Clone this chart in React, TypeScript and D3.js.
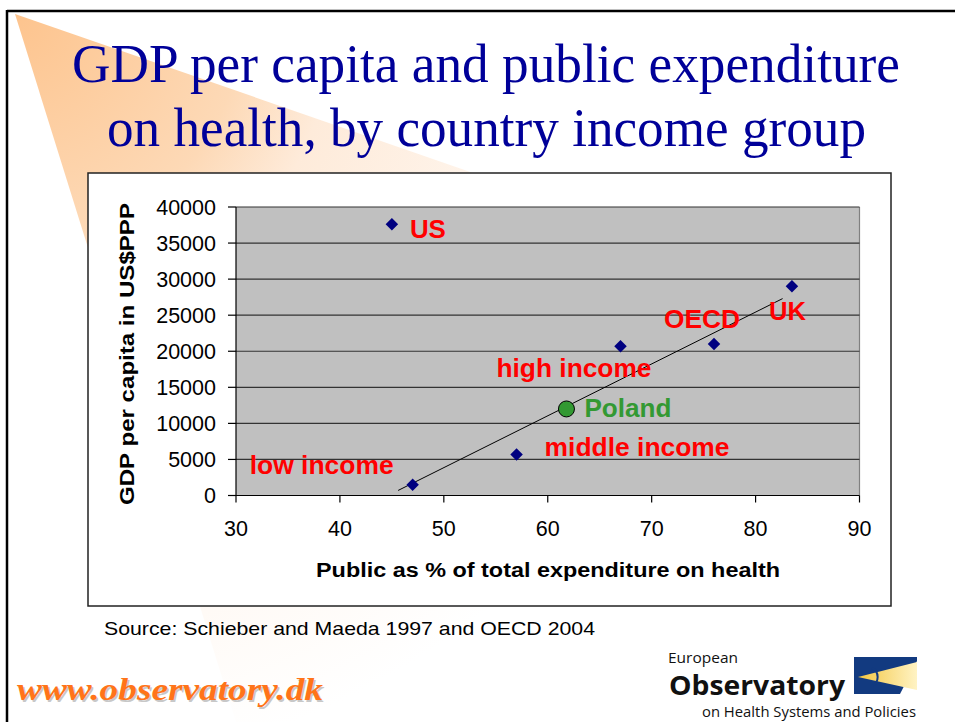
import React from "react";
import * as d3 from "d3";

// ---- data ----
const groups = ["US", "low income", "middle income", "Poland", "high income", "OECD", "UK"];
const publicShare = [45, 47, 57, 61.8, 67, 76, 83.5];
const gdpPerCapita = [37600, 1500, 5700, 12000, 20700, 21000, 29000];
const trendX = [45.6, 82.6];
const trendY = [700, 27300];
const xTicks = [30, 40, 50, 60, 70, 80, 90];
const yTicks = [0, 5000, 10000, 15000, 20000, 25000, 30000, 35000, 40000];
const titleLines = ["GDP per capita and public expenditure", "on health, by country income group"];
const xAxisTitle = "Public as % of total expenditure on health";
const yAxisTitle = "GDP per capita in US$PPP";
const sourceText = "Source: Schieber and Maeda 1997 and OECD 2004";
const urlText = "www.observatory.dk";

// ---- label layout (style only) ----
const labelLayout: Record<string, { dx: number; dy: number; w: number }> = {
  "US": { dx: 18, dy: 14, w: 36 },
  "low income": { dx: -163, dy: -11, w: 144 },
  "middle income": { dx: 28, dy: 2, w: 185 },
  "Poland": { dx: 18, dy: 8, w: 87 },
  "high income": { dx: -124, dy: 31, w: 155 },
  "OECD": { dx: -50, dy: -16, w: 76 },
  "UK": { dx: -23, dy: 34, w: 37 },
};

const W = 955;
const H = 722;
const plot = { left: 236, right: 859.5, top: 207, bottom: 495.5 };

export default function App() {
  const x = d3.scaleLinear().domain([30, 90]).range([plot.left, plot.right]);
  const y = d3.scaleLinear().domain([0, 40000]).range([plot.bottom, plot.top]);
  const trendLine = d3
    .line<number>()
    .x((d) => x(d))
    .y((_, i) => y(trendY[i]))(trendX);
  const diamond = d3.symbol().type(d3.symbolSquare).size(78)();
  const sans = "Arial, 'Liberation Sans', Helvetica, sans-serif";
  const serif = "'Times New Roman', 'Liberation Serif', serif";

  return (
    <svg
      width={W}
      height={H}
      style={{ position: "absolute", left: 0, top: 0, background: "#fff" }}
    >
      <defs>
        <radialGradient id="fan" gradientUnits="userSpaceOnUse" cx={15} cy={15} r={760}>
          <stop offset="0" stopColor="#FDC48E" />
          <stop offset="0.3" stopColor="#FDD9B6" />
          <stop offset="0.42" stopColor="#FEEBDA" />
          <stop offset="0.75" stopColor="#FFF8F2" />
          <stop offset="1" stopColor="#FFFFFF" />
        </radialGradient>
        <linearGradient id="beam" x1="0" x2="1" y1="0" y2="0">
          <stop offset="0" stopColor="#F3C640" />
          <stop offset="1" stopColor="#FFF3C4" />
        </linearGradient>
      </defs>
      <rect x={0} y={0} width={W} height={H} fill="#fff" />
      {/* decorative fan */}
      <polygon points="15,14 955,340 955,722 236,722" fill="url(#fan)" />
      {/* slide frame */}
      <line x1={7} y1={11} x2={W} y2={11} stroke="#000" strokeWidth={2.5} />
      <line x1={7} y1={10} x2={7} y2={H} stroke="#000" strokeWidth={2.5} />

      {/* title */}
      {titleLines.map((t, i) => (
        <text
          key={t}
          x={i === 0 ? 72 : 107}
          y={i === 0 ? 81.5 : 145.5}
          fontFamily={serif}
          fontSize={54}
          fill="#000099"
          textLength={i === 0 ? 828 : 759}
          lengthAdjust="spacingAndGlyphs"
        >
          {t}
        </text>
      ))}

      {/* chart box */}
      <rect x={88} y={173} width={803} height={433} fill="#fff" stroke="#222" strokeWidth={1.5} />

      {/* plot area */}
      <rect
        x={plot.left}
        y={plot.top}
        width={plot.right - plot.left}
        height={plot.bottom - plot.top}
        fill="#C0C0C0"
      />
      <line x1={plot.right} x2={plot.right} y1={plot.top} y2={plot.bottom} stroke="#808080" strokeWidth={1.2} />
      {yTicks.map((t) => (
        <g key={t}>
          {t > 0 && (
            <line x1={plot.left} x2={plot.right} y1={y(t)} y2={y(t)} stroke="#333" strokeWidth={1.2} />
          )}
          <line x1={plot.left - 8} x2={plot.left} y1={y(t)} y2={y(t)} stroke="#000" strokeWidth={1.2} />
          <text
            x={216}
            y={y(t) + 7.5}
            textAnchor="end"
            fontFamily={sans}
            fontSize={21.5}
            fill="#000"
          >
            {t}
          </text>
        </g>
      ))}
      <line x1={plot.left} x2={plot.left} y1={plot.top} y2={plot.bottom} stroke="#000" strokeWidth={1.2} />
      <line x1={plot.left} x2={plot.right} y1={plot.bottom} y2={plot.bottom} stroke="#000" strokeWidth={1.2} />
      {xTicks.map((t) => (
        <g key={t}>
          <line x1={x(t)} x2={x(t)} y1={plot.bottom} y2={plot.bottom + 7} stroke="#000" strokeWidth={1.2} />
          <text x={x(t)} y={536} textAnchor="middle" fontFamily={sans} fontSize={21.5} fill="#000">
            {t}
          </text>
        </g>
      ))}

      {/* axis titles */}
      <text
        x={316}
        y={577}
        fontFamily={sans}
        fontWeight="bold"
        fontSize={20}
        fill="#000"
        textLength={464}
        lengthAdjust="spacingAndGlyphs"
      >
        {xAxisTitle}
      </text>
      <text
        transform={`translate(134,${505}) rotate(-90)`}
        x={0}
        y={0}
        fontFamily={sans}
        fontWeight="bold"
        fontSize={20}
        fill="#000"
        textLength={302}
        lengthAdjust="spacingAndGlyphs"
      >
        {yAxisTitle}
      </text>

      {/* trend line */}
      <path d={trendLine || ""} fill="none" stroke="#000" strokeWidth={1} />

      {/* points */}
      {groups.map((g, i) =>
        g === "Poland" ? (
          <circle
            key={g}
            cx={x(publicShare[i])}
            cy={y(gdpPerCapita[i])}
            r={8}
            fill="#339933"
            stroke="#000"
            strokeWidth={1}
          />
        ) : (
          <path
            key={g}
            d={diamond || ""}
            transform={`translate(${x(publicShare[i])},${y(gdpPerCapita[i])}) rotate(45)`}
            fill="#000080"
          />
        )
      )}

      {/* labels */}
      {groups.map((g, i) => {
        const l = labelLayout[g];
        return (
          <text
            key={g}
            x={x(publicShare[i]) + l.dx}
            y={y(gdpPerCapita[i]) + l.dy}
            fontFamily={sans}
            fontWeight="bold"
            fontSize={25}
            fill={g === "Poland" ? "#339933" : "#FF0000"}
            textLength={l.w}
            lengthAdjust="spacingAndGlyphs"
          >
            {g}
          </text>
        );
      })}

      {/* source */}
      <text
        x={104}
        y={635}
        fontFamily={sans}
        fontSize={19}
        fill="#000"
        textLength={491}
        lengthAdjust="spacingAndGlyphs"
      >
        {sourceText}
      </text>

      {/* url */}
      <text
        x={18.5}
        y={701.5}
        fontFamily={serif}
        fontWeight="bold"
        fontStyle="italic"
        fontSize={31}
        fill="#C8C8C8"
        textLength={306}
        lengthAdjust="spacingAndGlyphs"
      >
        {urlText}
      </text>
      <text
        x={17}
        y={700}
        fontFamily={serif}
        fontWeight="bold"
        fontStyle="italic"
        fontSize={31}
        fill="#FF7419"
        textLength={306}
        lengthAdjust="spacingAndGlyphs"
      >
        {urlText}
      </text>

      {/* logo */}
      <text x={668} y={663} fontFamily="'Open Sans', sans-serif" fontSize={14} fill="#111" textLength={70} lengthAdjust="spacingAndGlyphs">
        European
      </text>
      <text x={669} y={695} fontFamily="'Open Sans', sans-serif" fontWeight="bold" fontSize={26} fill="#111" textLength={176} lengthAdjust="spacingAndGlyphs">
        Observatory
      </text>
      <text x={702} y={717} fontFamily="'Open Sans', sans-serif" fontSize={14.5} fill="#111" textLength={214} lengthAdjust="spacingAndGlyphs">
        on Health Systems and Policies
      </text>
      <g>
        <polygon points="854,657 917,657 917,661 900,694 854,694" fill="#123A80" />
        <polygon points="858,677 917,662 917,690" fill="url(#beam)" />
        <path d="M 872,668 A 10 10 0 0 1 872,686" fill="none" stroke="#123A80" strokeWidth={2} />
      </g>
    </svg>
  );
}
